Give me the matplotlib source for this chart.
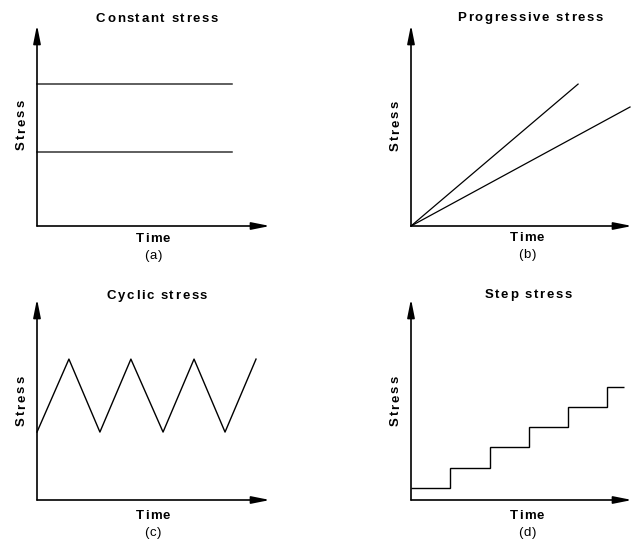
import matplotlib
matplotlib.use("Agg")
import matplotlib.pyplot as plt
from matplotlib.font_manager import FontProperties
from matplotlib.textpath import TextToPath

W, H = 633, 539
plt.rcParams['font.family'] = ['Liberation Sans', 'DejaVu Sans']

# ---- data (arbitrary units, axes span 0..10) ----
const_levels = [7.06, 3.68]
const_end = 8.37

prog_end_x = [7.56, 9.91]
prog_end_y = [7.06, 5.92]

cyc_t = [0, 1.37, 2.70, 4.03, 5.41, 6.74, 8.07, 9.40]
cyc_s = [3.38, 7.01, 3.38, 7.01, 3.38, 7.01, 3.38, 7.01]

step_t = [0, 1.76, 3.57, 5.34, 7.10, 8.87, 9.64]
step_s = [0.60, 1.59, 2.64, 3.63, 4.63, 5.62]

titles = ["Constant stress", "Progressive stress", "Cyclic stress", "Step stress"]
letters = ["(a)", "(b)", "(c)", "(d)"]

fig = plt.figure(figsize=(W / 100, H / 100), dpi=100)

def fx(x):
    return x / W

def fy(y):
    return 1 - y / H

_t2p = TextToPath()

def _w(s, prop):
    w, h, d = _t2p.get_text_width_height_descent(s, prop, ismath=False)
    return w * 100 / 72.0

def tracked(s, cx, cy, size=9.5, weight='bold', track=1.6, vertical=False):
    """Draw text with letter spacing. cx,cy in pixels: horizontal -> centre x, baseline y;
    vertical -> baseline x, centre y."""
    prop = FontProperties(family='Liberation Sans', size=size, weight=weight)
    ref = _w("x", prop)
    advs = [_w(s[:i] + "x", prop) - ref for i in range(len(s))]
    total = _w(s, prop) + track * (len(s) - 1)
    for i, ch in enumerate(s):
        if ch == ' ':
            continue
        off = advs[i] + track * i - total / 2
        if not vertical:
            fig.text(fx(cx + off), fy(cy), ch, ha='left', va='baseline',
                     fontproperties=prop)
        else:
            fig.text(fx(cx), fy(cy - off), ch, ha='left', va='baseline',
                     rotation=90, rotation_mode='anchor', fontproperties=prop)

# panel boxes in pixels: left, right, top, bottom
boxes = [(37, 270, 25, 226), (411, 632, 25, 226), (37, 270, 299, 500), (411, 632, 299, 500)]
axes = []
for (l, r, t, b) in boxes:
    ax = fig.add_axes([fx(l), fy(b), (r - l) / W, (b - t) / H])
    ax.set_xlim(0, 10)
    ax.set_ylim(0, 10)
    ax.axis('off')
    for xy in [(1, 0), (0, 1)]:
        ax.annotate('', xy=xy, xytext=(0, 0), xycoords='axes fraction',
                    textcoords='axes fraction',
                    arrowprops=dict(arrowstyle='-|>,head_length=1.1,head_width=0.22',
                                    color='black', lw=1.2, shrinkA=0, shrinkB=0,
                                    mutation_scale=10),
                    annotation_clip=False)
    axes.append(ax)

# (a) constant
for lv in const_levels:
    axes[0].plot([0, const_end], [lv, lv], color='#333333', lw=1.1, clip_on=False)
# (b) progressive
for ex, ey in zip(prog_end_x, prog_end_y):
    axes[1].plot([0, ex], [0, ey], color='black', lw=0.9, clip_on=False)
# (c) cyclic
axes[2].plot(cyc_t, cyc_s, color='black', lw=1.0, clip_on=False)
# (d) step
axes[3].stairs(step_s, step_t, baseline=None, color='black', lw=1.0)

# texts (pixel positions)
title_x = [157, 530, 157, 528]
title_base = [22, 21, 299, 298]
stress_base = [25, 399, 25, 399]
stress_cy = [125, 126, 401, 401]
time_x = [153, 527, 153, 527]
time_base = [242, 241, 519, 519]
let_base = [259, 258, 536, 536]

for i in range(4):
    tracked(titles[i], title_x[i], title_base[i], track=1.6)
    tracked("Stress", stress_base[i], stress_cy[i], track=1.9, vertical=True)
    tracked("Time", time_x[i], time_base[i], track=1.2)
    tracked(letters[i], time_x[i], let_base[i], weight='normal', track=1.0)

fig.savefig("out.png", dpi=100)
